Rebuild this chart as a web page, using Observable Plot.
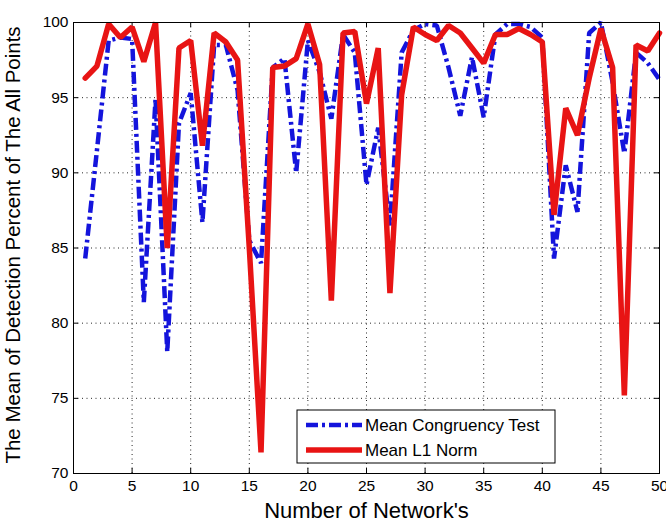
<!DOCTYPE html>
<html><head><meta charset="utf-8">
<script src="https://cdn.jsdelivr.net/npm/d3@7"></script>
<script src="https://cdn.jsdelivr.net/npm/@observablehq/plot@0.6"></script>
<style>body{margin:0;background:#fff;} svg{display:block;}</style>
</head><body><div id="chart"></div>
<script>
const networks = [1,2,3,4,5,6,7,8,9,10,11,12,13,14,15,16,17,18,19,20,21,22,23,24,25,26,27,28,29,30,31,32,33,34,35,36,37,38,39,40,41,42,43,44,45,46,47,48,49,50];
const congruency = [84.3,91.5,98.8,99.0,98.9,81.4,94.9,78.1,93.3,95.3,86.7,98.5,98.5,95.5,85.5,84.0,97.0,97.6,90.0,98.8,96.7,93.6,99.2,98.0,89.2,93.0,86.5,98.0,99.5,99.9,99.8,97.0,93.8,97.7,93.7,99.2,99.9,99.9,99.7,99.0,84.3,90.5,87.4,99.3,100.0,96.0,91.3,98.0,97.3,96.2];
const l1norm = [96.3,97.1,99.9,99.0,99.7,97.4,100.0,85.0,98.3,98.8,91.8,99.3,98.7,97.5,85.0,71.4,97.0,97.1,97.6,99.9,97.2,81.5,99.3,99.4,94.6,98.3,82.0,95.2,99.7,99.2,98.8,99.8,99.3,98.3,97.3,99.2,99.2,99.6,99.2,98.7,87.2,94.3,92.5,96.3,99.6,97.0,75.2,98.5,98.1,99.3];
const xTicks = [0,5,10,15,20,25,30,35,40,45,50];
const yTicks = [70,75,80,85,90,95,100];
const seriesNames = ["Mean Congruency Test","Mean L1 Norm"];
const seriesColors = ["#1414dc","#e81414"];
const xLabel = "Number of Network's";
const yLabel = "The Mean of Detection Percent of The All Points";

const rows = [];
networks.forEach((n,i)=>{
  rows.push({x:n, y:congruency[i], s:seriesNames[0]});
  rows.push({x:n, y:l1norm[i], s:seriesNames[1]});
});

const W = 666, H = 523, mt = 22, mr = 7, mb = 50, ml = 73;
const ph = H - mt - mb, pw = W - ml - mr;
const font = "Arial, 'Liberation Sans', sans-serif";

const chart = Plot.plot({
  width: W, height: H,
  marginTop: mt, marginRight: mr, marginBottom: mb, marginLeft: ml,
  style: {fontFamily: font, background: "#fff", color: "#000"},
  x: {domain: [0, 50]},
  y: {domain: [70, 100]},
  marks: [
    Plot.ruleX(xTicks.slice(1,-1), {x: d=>d, stroke: "#000", strokeWidth: 1, strokeDasharray: "1,3.5", strokeOpacity: 0.85}),
    Plot.ruleY(yTicks.slice(1,-1), {y: d=>d, stroke: "#000", strokeWidth: 1, strokeDasharray: "1,3.5", strokeOpacity: 0.85}),
    Plot.tickX(xTicks, {x: d=>d, insetTop: ph-5, stroke:"#000"}),
    Plot.tickX(xTicks, {x: d=>d, insetBottom: ph-5, stroke:"#000"}),
    Plot.tickY(yTicks, {y: d=>d, insetRight: pw-5, stroke:"#000"}),
    Plot.tickY(yTicks, {y: d=>d, insetLeft: pw-5, stroke:"#000"}),
    Plot.axisX({ticks: xTicks, tickSize: 0, tickPadding: 6, fontSize: 15.5, label: null}),
    Plot.axisY({ticks: yTicks, tickSize: 0, tickPadding: 5, fontSize: 15.5, label: null}),
    Plot.line(rows.filter(d=>d.s===seriesNames[0]), {x:"x", y:"y", stroke: seriesColors[0], strokeWidth: 4.5, strokeDasharray: "12,4,3,4", strokeLinecap: "butt", strokeLinejoin: "miter"}),
    Plot.line(rows.filter(d=>d.s===seriesNames[1]), {x:"x", y:"y", stroke: seriesColors[1], strokeWidth: 5.5, strokeLinejoin: "miter"}),
    Plot.frame({stroke: "#000", strokeWidth: 1}),
    Plot.text([xLabel], {frameAnchor: "bottom", lineAnchor: "middle", dy: 37, fontSize: 22, fill: "#000"}),
    Plot.text([yLabel], {frameAnchor: "left", dx: -60, dy: -3, rotate: -90, textAnchor: "middle", fontSize: 20.5, fill: "#000"})
  ]
});

// Legend
const svg = d3.select(chart);
const lg = svg.append("g").attr("font-family", font).attr("font-size", 17).attr("text-anchor", "start");
const lx = 297, ly = 410, lw = 258, lh = 53;
lg.append("rect").attr("x", lx).attr("y", ly).attr("width", lw).attr("height", lh).attr("fill", "#fff").attr("stroke", "#000").attr("stroke-width", 1);
seriesNames.forEach((name, i) => {
  const yy = ly + 15 + i * 25;
  lg.append("line").attr("x1", lx + 9).attr("x2", lx + 65).attr("y1", yy).attr("y2", yy)
    .attr("stroke", seriesColors[i]).attr("stroke-width", i === 0 ? 4.5 : 5.5)
    .attr("stroke-dasharray", i === 0 ? "12,4,3,4" : null);
  lg.append("text").attr("x", lx + 68).attr("y", yy).attr("dy", "0.35em").attr("text-anchor", "start").attr("fill", "#000").text(name);
});

document.getElementById("chart").appendChild(chart);
</script>
</body></html>
